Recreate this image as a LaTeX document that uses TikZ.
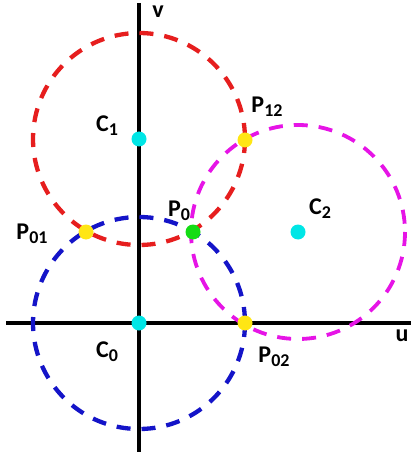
\documentclass[tikz,border=0pt]{standalone}
\usepackage{fontspec}
\setmainfont{Carlito}
\begin{document}
\begin{tikzpicture}[x=1pt,y=-1pt,
  circ/.style={line width=4.3pt,dash pattern=on 14pt off 11pt},
  axis/.style={line width=4pt,black},
  dot/.style={circle,inner sep=0pt,minimum size=15pt},
  lab/.style={font=\fontsize{24}{24}\selectfont\bfseries,inner sep=0pt,anchor=center}]
\definecolor{cred}{RGB}{230,30,30}
\definecolor{cblue}{RGB}{20,20,200}
\definecolor{cmag}{RGB}{230,20,230}
\definecolor{ccyan}{RGB}{0,230,230}
\definecolor{cyel}{RGB}{255,230,20}
\definecolor{cgreen}{RGB}{20,220,20}
\newcommand{\sublab}[2]{#1\raisebox{-0.35ex}{\fontsize{18}{18}\selectfont #2}}
\useasboundingbox (0,0) rectangle (410,454);
\coordinate (ul) at (6,323);
\coordinate (ur) at (412,323);
\coordinate (vt) at (139,3);
\coordinate (vb) at (139,452);
\draw[axis] (ul) -- (ur);
\draw[axis] (vt) -- (vb);
\draw[circ,cblue] (139,323) circle[radius=106];
\draw[circ,cred] (139,139) circle[radius=106];
\draw[circ,cmag,line width=3.8pt] (298,232) circle[radius=107];
\node[dot,fill=ccyan] (C0) at (139,323) {};
\node[dot,fill=ccyan] (C1) at (139,139) {};
\node[dot,fill=ccyan] (C2) at (298,232) {};
\node[dot,fill=cgreen] (P0) at (193,232) {};
\node[dot,fill=cyel] (P01) at (86,232) {};
\node[dot,fill=cyel] (P12) at (245,140) {};
\node[dot,fill=cyel] (P02) at (245,323) {};
\node[lab] (lv) at (158,12) {v};
\node[lab] (lu) at (402,336) {u};
\node[lab] (lC0) at (107,352) {\sublab{C}{0}};
\node[lab] (lC1) at (107,126) {\sublab{C}{1}};
\node[lab] (lC2) at (320,209) {\sublab{C}{2}};
\node[lab] (lP0) at (179,211) {\sublab{P}{0}};
\node[lab] (lP01) at (32,234) {\sublab{P}{01}};
\node[lab] (lP12) at (267,107) {\sublab{P}{12}};
\node[lab] (lP02) at (274,357) {\sublab{P}{02}};
\end{tikzpicture}
\end{document}
